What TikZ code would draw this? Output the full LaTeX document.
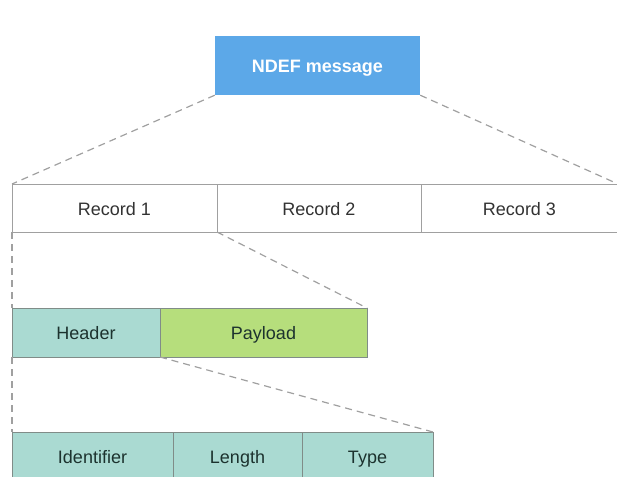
\documentclass[tikz,border=0pt]{standalone}
\usepackage{fontspec}
\setmainfont{Liberation Sans}
\definecolor{msgblue}{RGB}{92,168,232}
\definecolor{hdrteal}{RGB}{170,218,210}
\definecolor{payg}{RGB}{182,222,124}
\definecolor{edge}{RGB}{160,160,160}
\definecolor{edgedark}{RGB}{128,140,136}
\definecolor{txt}{RGB}{50,50,50}
\definecolor{txtdark}{RGB}{28,50,46}
\begin{document}
\begin{tikzpicture}[x=1pt,y=-1pt,
  cell/.style={draw=edge,line width=1pt,inner sep=0pt,outer sep=0pt,
    text height=14pt,text depth=0pt,
    font=\fontsize{18}{20}\selectfont,text=txt},
  field/.style={cell,fill=hdrteal,draw=edgedark,text=txtdark},
  link/.style={draw=edge,line width=1.2pt,dash pattern=on 7pt off 5pt}]
\clip (0,0) rectangle (617,476);
\useasboundingbox (0,0) rectangle (617,476);
% top-level message
\node[fill=msgblue,inner sep=0pt,text=white,text height=14pt,text depth=0pt,
  font=\bfseries\fontsize{18}{20}\selectfont,
  minimum width=205pt,minimum height=59pt] (msg) at (317.5,65.5) {NDEF message};
% records
\node[cell,minimum width=205pt,minimum height=48pt] (r1) at (114.5,208) {Record 1};
\node[cell,minimum width=204pt,minimum height=48pt] (r2) at (319,208) {Record 2};
\node[cell,minimum width=197pt,minimum height=48pt] (r3) at (519.5,208) {Record 3};
% record layout
\node[field,minimum width=148pt,minimum height=49pt] (hd) at (86,332.5) {Header};
\node[cell,fill=payg,draw=edgedark,text=txtdark,minimum width=207pt,minimum height=49pt] (pl) at (263.5,332.5) {Payload};
% header fields
\node[field,minimum width=161pt,minimum height=48pt] (id) at (92.5,456) {Identifier};
\node[field,minimum width=129pt,minimum height=48pt] (ln) at (237.5,456) {Length};
\node[field,minimum width=131pt,minimum height=48pt] (ty) at (367.5,456) {Type};
% zoom connectors
\draw[link] (msg.south west) -- (r1.north west);
\draw[link] (msg.south east) -- (r3.north east);
\draw[link] (r1.south west) -- (hd.north west);
\draw[link] (r1.south east) -- (pl.north east);
\draw[link] (hd.south west) -- (id.north west);
\draw[link] (hd.south east) -- (ty.north east);
\end{tikzpicture}
\end{document}
